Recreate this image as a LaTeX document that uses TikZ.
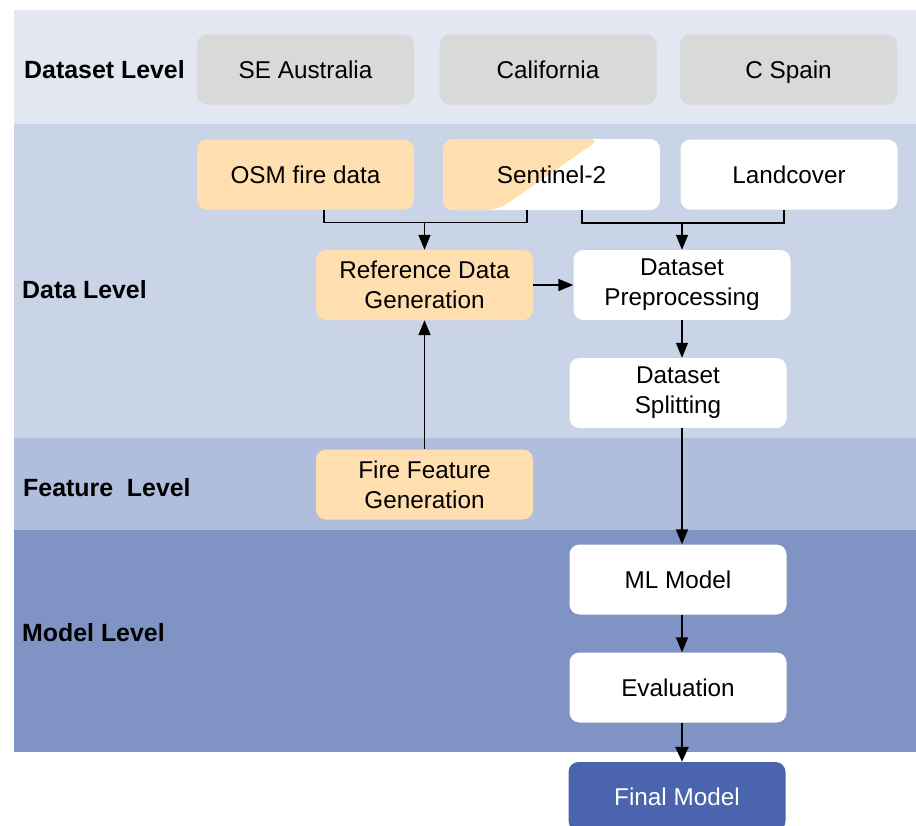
\documentclass[tikz,border=0pt]{standalone}
\usepackage{fontspec}
\setmainfont{Liberation Sans}
\usetikzlibrary{arrows.meta,calc}

\definecolor{bandA}{HTML}{E3E7F2}
\definecolor{bandB}{HTML}{CAD4E7}
\definecolor{bandC}{HTML}{AFBEDC}
\definecolor{bandD}{HTML}{7F93C5}
\definecolor{boxgray}{HTML}{D9D9D9}
\definecolor{peach}{HTML}{FFDFB0}
\definecolor{finalblue}{HTML}{4A64AE}

% keep descenders from shifting a one-line label upwards
\newcommand{\nodesc}[1]{\raisebox{0pt}[\height][0pt]{#1}}

\tikzset{
  box/.style={rectangle, rounded corners=10pt, minimum width=217pt, minimum height=70pt,
    inner sep=0pt, align=center, font=\fontsize{24.3}{30}\selectfont},
  graybox/.style={box, fill=boxgray},
  peachbox/.style={box, fill=peach},
  whitebox/.style={box, fill=white},
  bluebox/.style={box, fill=finalblue, text=white},
  levellabel/.style={anchor=west, inner sep=0pt, font=\fontsize{24.9}{30}\selectfont\bfseries},
  link/.style={line width=1.5pt},
  flow/.style={line width=1.5pt, -{Triangle[length=15pt,width=12pt]}},
}

\begin{document}
\begin{tikzpicture}[x=1pt,y=-1pt]
\clip (0,0) rectangle (916,825);
\fill[white] (0,0) rectangle (916,825);

% level bands
\fill[bandA] (14,10)  rectangle (916,124);
\fill[bandB] (14,124) rectangle (916,438);
\fill[bandC] (14,438) rectangle (916,530);
\fill[bandD] (14,530) rectangle (916,752);

\node[levellabel] (lvdataset) at (24,70)  {Dataset Level};
\node[levellabel] (lvdata)    at (22,290) {Data Level};
\node[levellabel] (lvfeature) at (23,488) {Feature\ \ Level};
\node[levellabel] (lvmodel)   at (22,633) {Model Level};

% dataset level
\node[graybox] (seaus) at (305.5,69.5) {SE Australia};
\node[graybox] (calif) at (548,69.5)   {California};
\node[graybox] (spain) at (788.5,69.5) {\nodesc{C Spain}};

% data sources
\node[peachbox] (osm) at (305.5,174.5) {OSM fire data};
\node[box, minimum width=217pt, minimum height=71pt,
  path picture={
    \fill[white] (path picture bounding box.north west) rectangle (path picture bounding box.south east);
    \fill[peach] (path picture bounding box.north west) -- ++(157,0)
      -- ($(path picture bounding box.south west)+(55,0)$)
      -- (path picture bounding box.south west) -- cycle;
  }] (sentinel) at (551.5,174.5) {Sentinel-2};
\node[whitebox] (landcover) at (789,174.5) {Landcover};

% processing
\node[peachbox] (refgen) at (424.5,285) {Reference Data\\Generation};
\node[whitebox] (prep)   at (682,285)   {Dataset\\Preprocessing};
\node[whitebox] (split)  at (678,393)   {Dataset\\Splitting};
\node[peachbox] (fire)   at (424.5,484.5) {Fire Feature\\Generation};
\node[whitebox] (ml)     at (678,579.5) {ML Model};
\node[whitebox] (eval)   at (678,687.5) {Evaluation};
\node[bluebox, minimum height=69pt] (final) at (677,796.5) {Final Model};

% merge brackets
\coordinate (osmA)  at ($(osm.south)+(18.5,0)$);
\coordinate (senA)  at ($(sentinel.south)+(-24.5,0)$);
\coordinate (senB)  at ($(sentinel.south)+(30.5,0)$);
\coordinate (lanA)  at ($(landcover.south)+(-5,0)$);
\draw[link] (osmA) -- ++(0,13) -| (senA);
\draw[link] (senB) -- ++(0,13) -| (lanA);
\coordinate (mergeL) at (424.5,222.5);
\coordinate (mergeR) at (682,222.5);
\draw[flow] (mergeL) -- (refgen.north);
\draw[flow] (mergeR) -- (prep.north);

% flow arrows
\draw[flow] (refgen.east) -- (prep.west);
\draw[flow] (prep.south) -- (prep.south |- split.north);
\draw[flow] (fire.north) -- (refgen.south);
\draw[flow] (split.south -| prep.south) -- (ml.north -| prep.south);
\draw[flow] (ml.south -| prep.south) -- (eval.north -| prep.south);
\draw[line width=2.4pt, -{Triangle[length=15pt,width=13pt]}] (eval.south -| prep.south) -- (final.north -| prep.south);
\end{tikzpicture}
\end{document}
